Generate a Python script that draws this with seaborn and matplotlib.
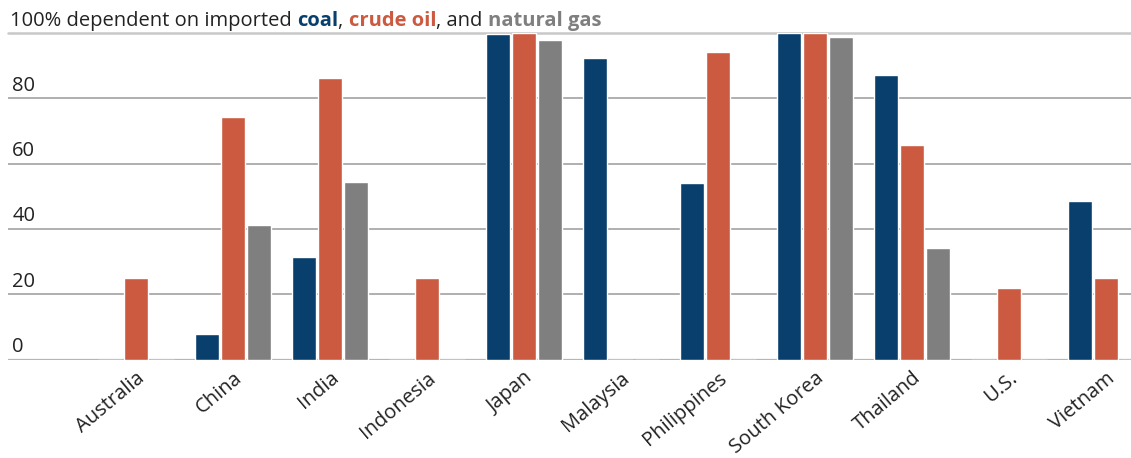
import matplotlib
matplotlib.use("Agg")
import matplotlib.pyplot as plt
import seaborn as sns
import pandas as pd

# Share of each fuel that is imported, by country (%)
countries = ["Australia", "China", "India", "Indonesia", "Japan", "Malaysia",
             "Philippines", "South Korea", "Thailand", "U.S.", "Vietnam"]
coal = [0, 8, 31.4, 0, 99.7, 92.3, 54, 100, 87.1, 0, 48.6]
crude_oil = [25, 74.3, 86.2, 25, 100, 0, 94.2, 100, 65.7, 22, 25]
natural_gas = [0, 41.2, 54.3, 0, 97.8, 0, 0, 98.8, 34.2, 0, 0]

fuels = ["coal", "crude oil", "natural gas"]
fuel_colors = ["#083f6d", "#cc5a40", "#7f7f7f"]
y_ticks = [0, 20, 40, 60, 80]
y_tick_labels = ["0", "20", "40", "60", "80"]

df = pd.DataFrame({
    "country": countries * 3,
    "fuel": ["coal"] * len(countries) + ["crude oil"] * len(countries)
            + ["natural gas"] * len(countries),
    "share": coal + crude_oil + natural_gas,
})

sns.set_theme(style="white")
plt.rcParams["font.family"] = ["Open Sans", "DejaVu Sans"]

W, H = 1131, 458
FS = 14.5
fig = plt.figure(figsize=(W / 100, H / 100), dpi=100)
ax = fig.add_axes([8 / W, (H - 359.7) / H, 1 - 8 / W, (359.7 - 33) / H])

sns.barplot(data=df, x="country", y="share", hue="fuel", order=countries,
            hue_order=fuels, palette=fuel_colors, width=0.8, gap=0.08,
            saturation=1, legend=False, ax=ax, zorder=3)

ax.set_ylim(0, 100)
ax.set_xlim(-1.32, 10.26)
ax.set_xlabel("")
ax.set_ylabel("")
for s in ax.spines.values():
    s.set_visible(False)
ax.set_yticks([])

# horizontal rules
for v in y_ticks[1:]:
    ax.axhline(v, color="#9a9a9a", lw=1.1, zorder=1)
ax.axhline(0, color="#b5b5b5", lw=1.6, zorder=1)
ax.axhline(100, color="#c8c8c8", lw=1.8, zorder=1, clip_on=False)

# value labels sitting above each rule at the left edge
for v, lab in zip(y_ticks, y_tick_labels):
    ax.annotate(lab, xy=(0, v), xycoords=("axes fraction", "data"),
                xytext=(3, 5.5), textcoords="offset points",
                ha="left", va="baseline", fontsize=FS, color="#222222")

ax.tick_params(axis="x", length=0, pad=6)
ax.set_xticks(range(len(countries)))
ax.set_xticklabels(countries, rotation=40, ha="right", rotation_mode="anchor",
                   fontsize=FS, color="#222222")

# multi-coloured heading
pieces = [("100% dependent on imported ", "#222222", "normal"),
          ("coal", fuel_colors[0], "bold"),
          (", ", "#222222", "normal"),
          ("crude oil", fuel_colors[1], "bold"),
          (", and ", "#222222", "normal"),
          ("natural gas", fuel_colors[2], "bold")]
fig.canvas.draw()
renderer = fig.canvas.get_renderer()
x = 10
for txt, col, wt in pieces:
    t = fig.text(x / W, (H - 26) / H, txt, color=col, fontweight=wt,
                 fontsize=FS, ha="left", va="baseline")
    bb = t.get_window_extent(renderer=renderer)
    x += bb.width

fig.savefig("out.png", dpi=100)
